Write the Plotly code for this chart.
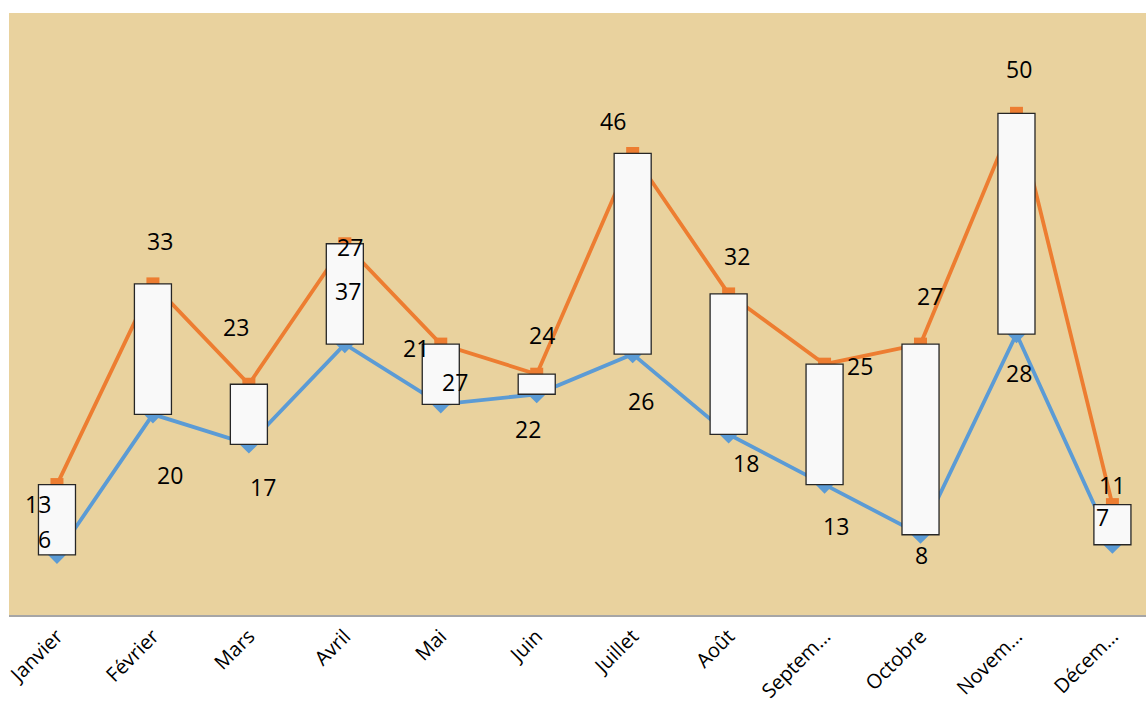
import plotly.graph_objects as go

months = ["Janvier", "Février", "Mars", "Avril", "Mai", "Juin", "Juillet",
          "Août", "Septem…", "Octobre", "Novem…", "Décem…"]
serie_orange = [13, 33, 23, 37, 27, 24, 46, 32, 25, 27, 50, 11]
serie_bleue = [6, 20, 17, 27, 21, 22, 26, 18, 13, 8, 28, 7]

# label pixel offsets (dx right, dy down) relative to each point
orange_dx = [-19, 7, -13, 3, 14, 5, -20, 8, 35, 9, 3, 0]
orange_dy = [19, -43, -57, 47, 38, -39, -32, -38, 2, -48, -44, -20]
bleue_dx = [-12, 17, 14, 5, -25, -9, 8, 17, 11, 1, 3, -10]
bleue_dy = [-16, 61, 43, -97, -56, 35, 47, 29, 41, 20, 39, -28]

ORANGE = "#ED7D31"
BLEU = "#5B9BD5"
FONT = "Open Sans"

fig = go.Figure()

fig.add_trace(go.Scatter(
    x=months, y=serie_bleue, mode="lines+markers",
    line=dict(color=BLEU, width=3.8),
    marker=dict(symbol="diamond", size=14, color=BLEU),
    showlegend=False, cliponaxis=False, xaxis="x", yaxis="y"))
fig.add_trace(go.Scatter(
    x=months, y=serie_orange, mode="lines+markers",
    line=dict(color=ORANGE, width=3.8),
    marker=dict(symbol="square", size=13, color=ORANGE),
    showlegend=False, cliponaxis=False, xaxis="x", yaxis="y"))

# up/down bars drawn on an overlaid subplot so they sit above the lines
lo = [min(a, b) for a, b in zip(serie_orange, serie_bleue)]
hi = [max(a, b) for a, b in zip(serie_orange, serie_bleue)]
fig.add_trace(go.Bar(
    x=months, base=lo, y=[h - l for h, l in zip(hi, lo)],
    width=0.386, marker=dict(color="#F9F9F9", line=dict(color="#262626", width=1.3)),
    showlegend=False, hoverinfo="skip", xaxis="x2", yaxis="y2"))

annotations = []
for i, m in enumerate(months):
    annotations.append(dict(x=m, y=serie_orange[i], xref="x", yref="y",
                            text=str(serie_orange[i]), showarrow=False,
                            xshift=orange_dx[i], yshift=-orange_dy[i],
                            font=dict(family=FONT, size=23, color="#000000")))
    annotations.append(dict(x=m, y=serie_bleue[i], xref="x", yref="y",
                            text=str(serie_bleue[i]), showarrow=False,
                            xshift=bleue_dx[i], yshift=-bleue_dy[i],
                            font=dict(family=FONT, size=23, color="#000000")))

xr = [-0.5, 11.35]
yr = [0, 60]
fig.update_layout(
    width=1146, height=708,
    margin=dict(l=9, r=0, t=13, b=93, autoexpand=False),
    paper_bgcolor="#FFFFFF",
    plot_bgcolor="#E9D29E",
    font=dict(family=FONT, size=20, color="#000000"),
    annotations=annotations,
    xaxis=dict(type="category", range=xr, showgrid=False, zeroline=False,
               showline=True, linecolor="#A6A6A6", linewidth=1.5,
               tickangle=-45, ticks="", ticklabelstandoff=0, automargin=False,
               tickfont=dict(family=FONT, size=20, color="#000000")),
    yaxis=dict(range=yr, showgrid=False, zeroline=False, showticklabels=False,
               showline=False, automargin=False),
    xaxis2=dict(type="category", range=xr, overlaying="x", visible=False),
    yaxis2=dict(range=yr, overlaying="y", visible=False),
)

fig.write_html("out.html")
